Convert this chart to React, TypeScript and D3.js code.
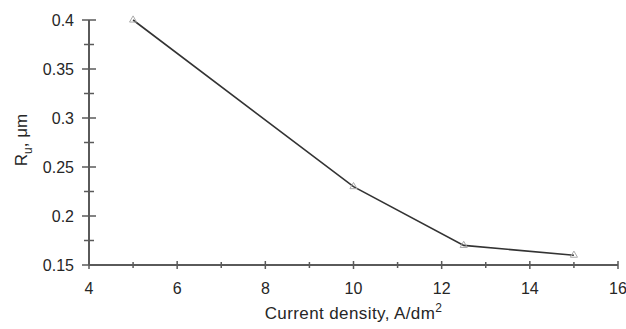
import { useEffect, useRef } from 'react';
import * as d3 from 'd3';

// values
const currentDensity = [5, 10, 12.5, 15];
const roughness = [0.4, 0.23, 0.17, 0.16];

const xTicks = [4, 6, 8, 10, 12, 14, 16];
const xMinorTicks = [5, 7, 9, 11, 13, 15];
const yTicks = [0.15, 0.2, 0.25, 0.3, 0.35, 0.4];
const yMinorTicks = [0.175, 0.225, 0.275, 0.325, 0.375];

const width = 626;
const height = 329;
const margin = { top: 20, right: 8, bottom: 64, left: 89 };

export default function App() {
    const svgRef = useRef<SVGSVGElement>(null);

    useEffect(() => {
        const svg = d3.select(svgRef.current);
        svg.selectAll('*').remove();

        const innerWidth = width - margin.left - margin.right;
        const innerHeight = height - margin.top - margin.bottom;

        const x = d3.scaleLinear().domain([4, 16]).range([0, innerWidth]);
        const y = d3.scaleLinear().domain([0.15, 0.4]).range([innerHeight, 0]);

        const g = svg.append('g')
            .attr('transform', `translate(${margin.left},${margin.top})`);

        const axisColor = '#5a5a5a';
        const textColor = '#262626';
        const font = '"Liberation Sans", Arial, sans-serif';

        // y axis: line, major and minor ticks crossing the line
        g.append('line')
            .attr('x1', 0).attr('x2', 0)
            .attr('y1', 0).attr('y2', innerHeight)
            .attr('stroke', axisColor).attr('stroke-width', 2);

        g.selectAll('.y-major')
            .data(yTicks)
            .enter()
            .append('line')
            .attr('x1', -7).attr('x2', 7)
            .attr('y1', d => y(d)).attr('y2', d => y(d))
            .attr('stroke', axisColor).attr('stroke-width', 1.5);

        g.selectAll('.y-minor')
            .data(yMinorTicks)
            .enter()
            .append('line')
            .attr('x1', -5).attr('x2', 5)
            .attr('y1', d => y(d)).attr('y2', d => y(d))
            .attr('stroke', axisColor).attr('stroke-width', 1.5);

        g.selectAll('.y-label')
            .data(yTicks)
            .enter()
            .append('text')
            .attr('x', -15)
            .attr('y', d => y(d))
            .attr('dy', '0.35em')
            .attr('text-anchor', 'end')
            .style('font-family', font)
            .style('font-size', '16px')
            .attr('fill', textColor)
            .text(d => String(d));

        // x axis
        g.append('line')
            .attr('x1', 0).attr('x2', innerWidth)
            .attr('y1', innerHeight).attr('y2', innerHeight)
            .attr('stroke', axisColor).attr('stroke-width', 2);

        g.selectAll('.x-major')
            .data(xTicks)
            .enter()
            .append('line')
            .attr('x1', d => x(d)).attr('x2', d => x(d))
            .attr('y1', innerHeight - 4).attr('y2', innerHeight + 4)
            .attr('stroke', axisColor).attr('stroke-width', 1.5);

        g.selectAll('.x-minor')
            .data(xMinorTicks)
            .enter()
            .append('line')
            .attr('x1', d => x(d)).attr('x2', d => x(d))
            .attr('y1', innerHeight - 3).attr('y2', innerHeight + 3)
            .attr('stroke', axisColor).attr('stroke-width', 1.5);

        g.selectAll('.x-label')
            .data(xTicks)
            .enter()
            .append('text')
            .attr('x', d => x(d))
            .attr('y', innerHeight + 23)
            .attr('dy', '0.35em')
            .attr('text-anchor', 'middle')
            .style('font-family', font)
            .style('font-size', '16px')
            .attr('fill', textColor)
            .text(d => String(d));

        // x axis title with superscript 2
        const xTitle = g.append('text')
            .attr('x', innerWidth / 2)
            .attr('y', innerHeight + 54)
            .attr('text-anchor', 'middle')
            .style('font-family', font)
            .style('font-size', '17px')
            .style('letter-spacing', '0.4px')
            .attr('fill', textColor);
        xTitle.append('tspan').text('Current density, A/dm');
        xTitle.append('tspan')
            .attr('dy', -7)
            .style('font-size', '12px')
            .text('2');

        // y axis title, rotated, R with subscript u
        const yTitle = svg.append('text')
            .attr('transform', `translate(27,140) rotate(-90)`)
            .attr('text-anchor', 'middle')
            .style('font-family', font)
            .style('font-size', '17px')
            .attr('fill', textColor);
        yTitle.append('tspan').text('R');
        yTitle.append('tspan')
            .attr('dy', 5)
            .style('font-size', '12px')
            .text('u');
        yTitle.append('tspan')
            .attr('dy', -5)
            .text(', \u03bcm');

        // data line
        const points = currentDensity.map((cd, i) => [cd, roughness[i]] as [number, number]);
        const line = d3.line<[number, number]>()
            .x(d => x(d[0]))
            .y(d => y(d[1]));

        g.append('path')
            .datum(points)
            .attr('fill', 'none')
            .attr('stroke', '#333')
            .attr('stroke-width', 1.6)
            .attr('d', line);

        // faint triangle markers
        const triangle = d3.symbol().type(d3.symbolTriangle).size(22);
        g.selectAll('.marker')
            .data(points)
            .enter()
            .append('path')
            .attr('transform', d => `translate(${x(d[0])},${y(d[1])})`)
            .attr('d', triangle)
            .attr('fill', 'none')
            .attr('stroke', '#aaa')
            .attr('stroke-width', 1);
    }, []);

    return (
        <svg
            ref={svgRef}
            width={width}
            height={height}
            style={{ position: 'absolute', left: 0, top: 0, background: '#fff' }}
        />
    );
}
